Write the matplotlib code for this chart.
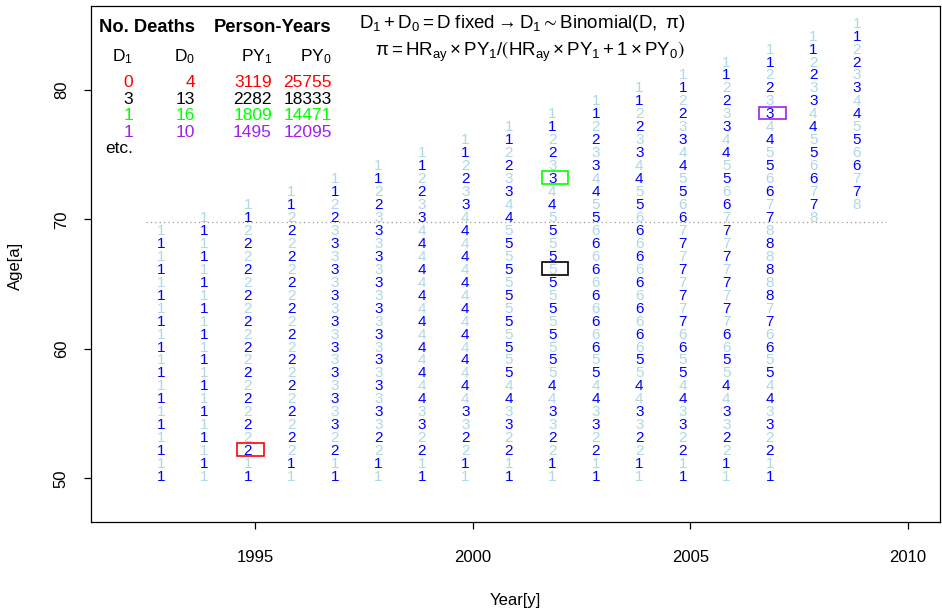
import matplotlib
matplotlib.use("Agg")
import matplotlib.pyplot as plt
from matplotlib.patches import Rectangle

# calendar years (one column of digits each), lowest age shown, digits bottom -> top
years = [1993, 1994, 1995, 1996, 1997, 1998, 1999, 2000, 2001,
         2002, 2003, 2004, 2005, 2006, 2007, 2008, 2009]
first_age = [50, 50, 50, 50, 50, 50, 50, 50, 50,
             50, 50, 50, 50, 50, 50, 70, 71]
columns = [
    "11111" "11111" "11111" "11111",
    "11111" "11111" "11111" "11111" "1",
    "11" "222222" "222222" "222222" "11",
    "11" "222222" "222222" "222222" "2" "11",
    "1122" "33333333" "33333333" "2211",
    "1122" "33333333" "33333333" "3" "2211",
    "112233" "4444444" "4444444" "332211",
    "112233" "4444444" "4444444" "4" "332211",
    "11223344" "555555" "555555" "44332211",
    "11223344" "555555" "555555" "5" "44332211",
    "1122334455" "66666" "66666" "5544332211",
    "1122334455" "66666" "66666" "6" "5544332211",
    "112233445566" "7777" "7777" "665544332211",
    "112233445566" "7777" "7777" "7" "665544332211",
    "11223344556677" "888" "888" "77665544332211",
    "877665544332211",
    "877665544332211",
]

# highlighted cells
box_year = [1995, 2002, 2002, 2007]
box_age = [52, 66, 73, 78]
box_colors = ["#FF0000", "black", "#00FF00", "#A020F0"]

# table of deaths / person-years for those cells
d1 = [0, 3, 1, 1]
d0 = [4, 13, 16, 10]
py1 = [3119, 2282, 1809, 1495]
py0 = [25755, 18333, 14471, 12095]

plt.rcParams['font.family'] = ['Liberation Sans', 'DejaVu Sans']
plt.rcParams['mathtext.fontset'] = 'custom'
plt.rcParams['mathtext.rm'] = 'Liberation Sans'
plt.rcParams['mathtext.it'] = 'Liberation Sans'
plt.rcParams['mathtext.bf'] = 'Liberation Sans:bold'
plt.rcParams['mathtext.fallback'] = 'stixsans'

W, H = 942, 612
fig = plt.figure(figsize=(W / 100, H / 100), dpi=100)
ax = fig.add_axes([91 / W, 1 - 522 / H, (940 - 91) / W, (522 - 5.5) / H])
ax.set_xlim(1991.23, 2010.74)
ax.set_ylim(46.63, 86.5)

for yr, a0, col in zip(years, first_age, columns):
    for j, ch in enumerate(col):
        age = a0 + j
        c = 'blue' if (yr - 1993 + age - 50) % 2 == 0 else 'lightblue'
        ax.text(yr - 0.17, age + 0.1, ch, color=c, fontsize=11,
                ha='center', va='center')

ax.plot([1992.5, 2009.5], [69.75, 69.75], color='#999999', lw=0.9,
        ls=(0, (1, 2.5)))

for yr, age, c in zip(box_year, box_age, box_colors):
    ax.add_patch(Rectangle((yr - 0.41, age - 0.29), 0.61, 0.98,
                           fill=False, ec=c, lw=1.2))

ax.set_xticks([1995, 2000, 2005, 2010])
ax.set_yticks([50, 60, 70, 80])
ax.tick_params(axis='x', direction='out', length=5, width=0.9,
               labelsize=12, pad=15)
ax.tick_params(axis='y', direction='out', length=5, width=0.9,
               labelsize=12, pad=11)
for lab in ax.get_yticklabels():
    lab.set_rotation(90)
    lab.set_va('center')
for s in ax.spines.values():
    s.set_linewidth(0.9)

fig.text(515.5 / W, 1 - 601 / H, "Year[y]", fontsize=12,
         ha='center', va='center')
fig.text(15.5 / W, 1 - 266 / H, "Age[a]", fontsize=12,
         ha='center', va='center', rotation=90)

# table in the top-left corner
def px(x, y):
    return x / W, 1 - y / H

fig.text(*px(99, 31.7), "No. Deaths", fontsize=13.2, fontweight='bold',
         ha='left', va='baseline')
fig.text(*px(214, 31.7), "Person-Years", fontsize=13.2, fontweight='bold',
         ha='left', va='baseline')
col_x = [133, 195, 272, 332]
for x, s in zip(col_x, [r"$D_1$", r"$D_0$", r"$PY_1$", r"$PY_0$"]):
    fig.text(*px(x, 61), s, fontsize=12.5, ha='right', va='baseline')
row_colors = ["#FF0000", "black", "#00FF00", "#A020F0"]
for i in range(4):
    yb = 87.3 + i * 16.6
    for x, v in zip(col_x, [d1[i], d0[i], py1[i], py0[i]]):
        fig.text(*px(x, yb), str(v), fontsize=12.5, color=row_colors[i],
                 ha='right', va='baseline')
fig.text(*px(105, 153.3), "etc.", fontsize=12.5, ha='left', va='baseline')

# model formulas
fig.text(*px(685, 27.5),
         r"$D_1 + D_0 = D\ \mathrm{fixed} \rightarrow D_1 \sim \mathrm{Binomial}(D,\ \pi)$",
         fontsize=13.5, ha='right', va='baseline')
fig.text(*px(685, 56.5),
         r"$\pi = HR_{ay} \times PY_1 / \left(HR_{ay} \times PY_1 + 1 \times PY_0\right)$",
         fontsize=13.5, ha='right', va='baseline')

fig.savefig("out.png", dpi=100)
